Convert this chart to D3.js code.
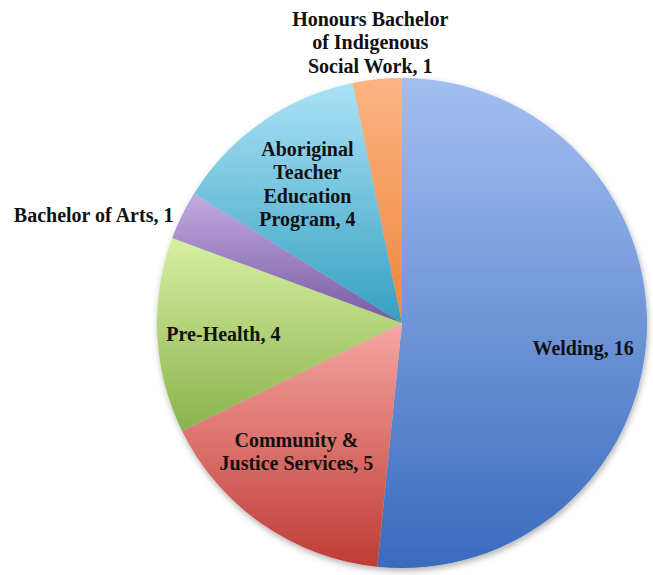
<!DOCTYPE html>
<html>
<head>
<meta charset="utf-8">
<script src="https://cdn.jsdelivr.net/npm/d3@7"></script>
<style>
  body { margin: 0; background: #fff; }
  text { font-family: "Liberation Serif", serif; font-weight: bold; font-size: 20px; fill: #111; }
</style>
</head>
<body>
<svg></svg>
<script>
const PROGRAMS = ['Welding', 'Community & Justice Services', 'Pre-Health', 'Bachelor of Arts',
                  'Aboriginal Teacher Education Program', 'Honours Bachelor of Indigenous Social Work'];
const COUNTS = [16, 5, 4, 1, 4, 1];
// label lines as they wrap in the picture
const LABEL_LINES = [
    ['Welding, 16'],
    ['Community &', 'Justice Services, 5'],
    ['Pre-Health, 4'],
    ['Bachelor of Arts, 1'],
    ['Aboriginal', 'Teacher', 'Education', 'Program, 4'],
    ['Honours Bachelor', 'of Indigenous', 'Social Work, 1'],
];

const WIDTH = 653;
const HEIGHT = 575;
const CX = 402, CY = 323, R = 245;
const LINE_H = 23.5;

// top / bottom gradient colours per slice
const COLORS = [
    ['#a3bff1', '#3a6bbd'],
    ['#f6a7a3', '#bf3b35'],
    ['#d8efa2', '#89b34c'],
    ['#c3abe2', '#765aa2'],
    ['#abe2f6', '#35a0c1'],
    ['#fbb481', '#ee863c'],
];
// label distance from the centre (share of radius), anchor and a small nudge
const LABEL_POS = [
    { k: 0.74, anchor: 'middle', dx: 0, dy: 16 },
    { k: 0.64, anchor: 'middle', dx: -16, dy: 0 },
    { k: 0.73, anchor: 'middle', dx: 0, dy: 2 },
    { k: 1.03, anchor: 'end', dx: -2, dy: 3 },
    { k: 0.69, anchor: 'middle', dx: 2, dy: 0 },
    { k: 1.16, anchor: 'middle', dx: -3, dy: 2 },
];

const data = PROGRAMS.map((p, i) => ({ id: i, program: p, value: COUNTS[i] }));

const svg = d3.select('svg')
    .attr('width', WIDTH)
    .attr('height', HEIGHT);

const defs = svg.append('defs');

const shadow = defs.append('filter')
    .attr('id', 'shadow')
    .attr('x', '-10%').attr('y', '-10%')
    .attr('width', '120%').attr('height', '120%');
shadow.append('feDropShadow')
    .attr('dx', 1).attr('dy', 3)
    .attr('stdDeviation', 3)
    .attr('flood-color', '#000')
    .attr('flood-opacity', 0.3);

COLORS.forEach((c, i) => {
    const g = defs.append('linearGradient')
        .attr('id', 'grad' + i)
        .attr('x1', 0).attr('y1', 0)
        .attr('x2', 0).attr('y2', 1);
    g.append('stop').attr('offset', '0%').attr('stop-color', c[0]);
    g.append('stop').attr('offset', '100%').attr('stop-color', c[1]);
});

const pie = d3.pie()
    .sort(null)
    .value(d => d.value);

const arc = d3.arc()
    .innerRadius(0)
    .outerRadius(R);

const arcs = pie(data);

const chart = svg.append('g')
    .attr('transform', `translate(${CX}, ${CY})`);

chart.append('g')
    .attr('filter', 'url(#shadow)')
    .selectAll('path')
    .data(arcs)
    .enter()
    .append('path')
    .attr('d', arc)
    .attr('fill', d => `url(#grad${d.index})`);

const labels = chart.selectAll('.label')
    .data(arcs)
    .enter()
    .append('text')
    .classed('label', true)
    .attr('text-anchor', d => LABEL_POS[d.index].anchor)
    .attr('transform', d => {
        const pos = LABEL_POS[d.index];
        const a = (d.startAngle + d.endAngle) / 2;
        const x = Math.sin(a) * R * pos.k + pos.dx;
        const y = -Math.cos(a) * R * pos.k + pos.dy;
        return `translate(${x}, ${y})`;
    });

labels.each(function (d) {
    const lines = LABEL_LINES[d.index];
    const top = -(lines.length - 1) * LINE_H / 2;
    d3.select(this).selectAll('tspan')
        .data(lines)
        .enter()
        .append('tspan')
        .attr('x', 0)
        .attr('y', (l, i) => top + i * LINE_H)
        .attr('dy', '0.35em')
        .text(l => l);
});
</script>
</body>
</html>
